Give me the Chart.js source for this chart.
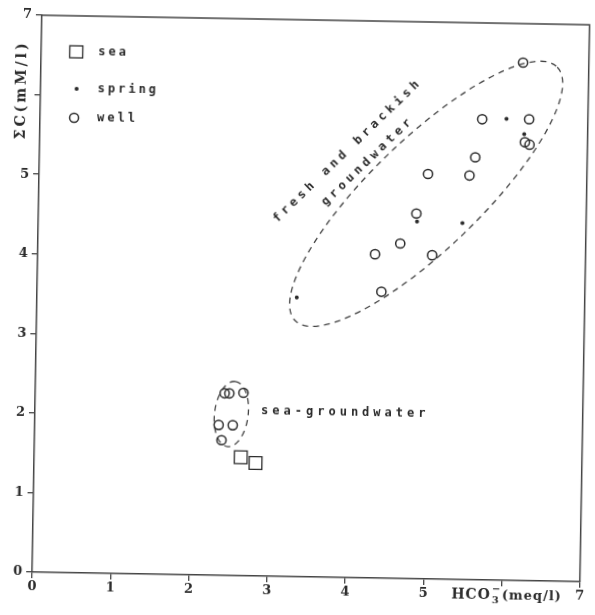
<!DOCTYPE html>
<html>
<head>
<meta charset="utf-8">
<script src="https://cdn.jsdelivr.net/npm/chart.js@4.4.1/dist/chart.umd.min.js"></script>
<style>
  html, body { margin: 0; padding: 0; background: #fff; }
  #wrap { width: 595px; height: 615px; overflow: hidden; position: relative; }
  /* the scanned figure sits about one degree off square */
  #chart { position: absolute; left: 0; top: 0; transform: rotate(1deg); transform-origin: 313px 298.5px; }
</style>
</head>
<body>
<div id="wrap"><canvas id="chart" width="595" height="615"></canvas></div>
<script>
// HCO3- versus total carbon, sea / spring / well samples

const xTicks = [0, 1, 2, 3, 4, 5, 6, 7];
const xTickLabels = ["0", "1", "2", "3", "4", "5", "", "7"];
const yTicks = [0, 1, 2, 3, 4, 5, 6, 7];
const yTickLabels = ["0", "1", "2", "3", "4", "5", "", "7"];

const seaX = [2.64, 2.83];
const seaY = [1.49, 1.42];

const springX = [3.32, 4.84, 5.42, 5.96, 6.19];
const springY = [3.51, 4.49, 4.48, 5.80, 5.61];

const wellX = [2.42, 2.48, 2.66, 2.35, 2.53, 2.39,
               6.16, 5.65, 6.25, 6.20, 6.26, 5.57, 5.50, 4.97, 4.83, 4.63, 4.31, 5.04, 4.40];
const wellY = [2.29, 2.29, 2.30, 1.89, 1.89, 1.70,
               6.51, 5.79, 5.80, 5.51, 5.48, 5.31, 5.08, 5.09, 4.59, 4.21, 4.07, 4.07, 3.60];

// dashed groupings: centre, half axes (x units), tilt in degrees
const groupCx = [4.95, 2.51];
const groupCy = [4.84, 2.03];
const groupA = [2.33, 0.42];
const groupB = [0.70, 0.215];
const groupAngle = [45, 84];

const noteText = ["fresh and brackish", "groundwater", "sea-groundwater"];
const noteX = [3.92, 4.18, 3.94];
const noteY = [5.35, 5.22, 2.07];
const noteAngle = [45, 45, 0];

const ink = "#2b2b2b";

function toPoints(xs, ys) {
    return xs.map((x, i) => ({ x: x, y: ys[i] }));
}

const decor = {
    id: "decor",
    beforeDatasetsDraw(chart) {
        const { ctx, scales: { x, y } } = chart;
        const unit = x.getPixelForValue(1) - x.getPixelForValue(0);
        ctx.save();
        ctx.strokeStyle = "#444";
        ctx.lineWidth = 1.3;
        ctx.setLineDash([6, 5]);
        groupCx.forEach((cx, i) => {
            ctx.beginPath();
            ctx.ellipse(x.getPixelForValue(cx), y.getPixelForValue(groupCy[i]),
                groupA[i] * unit, groupB[i] * unit, -groupAngle[i] * Math.PI / 180, 0, Math.PI * 2);
            ctx.stroke();
        });
        ctx.restore();
    },
    afterDraw(chart) {
        const { ctx, chartArea: area, scales: { x, y } } = chart;
        ctx.save();

        // frame, top and right
        ctx.strokeStyle = "#444";
        ctx.lineWidth = 1.5;
        ctx.beginPath();
        ctx.moveTo(area.left, area.top);
        ctx.lineTo(area.right, area.top);
        ctx.lineTo(area.right, area.bottom);
        ctx.stroke();

        ctx.fillStyle = ink;
        ctx.textAlign = "center";
        ctx.textBaseline = "middle";

        // notes on the groups
        ctx.font = "bold 12px 'DejaVu Sans Mono'";
        ctx.letterSpacing = "4px";
        noteText.forEach((t, i) => {
            ctx.save();
            ctx.translate(x.getPixelForValue(noteX[i]), y.getPixelForValue(noteY[i]));
            ctx.rotate(-noteAngle[i] * Math.PI / 180);
            ctx.fillText(t, 2, 0);
            ctx.restore();
        });

        // legend in the top left corner
        const lx = area.left + 35;
        const tx = area.left + 57;
        const rows = [area.top + 36, area.top + 73, area.top + 102];
        ctx.lineWidth = 1.3;
        ctx.strokeStyle = ink;
        ctx.strokeRect(lx - 6.5, rows[0] - 6, 13, 12);
        ctx.beginPath();
        ctx.arc(lx + 1, rows[1], 2, 0, Math.PI * 2);
        ctx.fill();
        ctx.lineWidth = 1.5;
        ctx.beginPath();
        ctx.arc(lx - 1, rows[2], 4.5, 0, Math.PI * 2);
        ctx.stroke();
        ctx.textAlign = "left";
        ctx.letterSpacing = "3px";
        chart.data.datasets.forEach((d, i) => ctx.fillText(d.label, tx, rows[i]));

        // y title, reading upwards, in place of the tick label 6
        ctx.font = "bold 14px 'DejaVu Serif'";
        ctx.letterSpacing = "3px";
        ctx.save();
        ctx.translate(area.left - 19, area.top + 75);
        ctx.rotate(-Math.PI / 2);
        ctx.textAlign = "center";
        ctx.fillText("\u03a3C(mM/l)", 0, 0);
        ctx.restore();

        // x title, in place of the tick label 6
        ctx.letterSpacing = "1px";
        let px = x.getPixelForValue(5.36);
        const base = area.bottom + 19;
        ctx.textBaseline = "alphabetic";
        ctx.font = "bold 14px 'DejaVu Serif'";
        ctx.fillText("HCO", px, base);
        px += ctx.measureText("HCO").width + 1;
        ctx.font = "bold 10px 'DejaVu Serif'";
        ctx.fillText("3", px, base + 4);
        ctx.fillText("\u2212", px, base - 7);
        px += ctx.measureText("3").width + 2;
        ctx.font = "bold 13px 'DejaVu Serif'";
        ctx.fillText("(meq/l)", px, base);

        ctx.restore();
    }
};

new Chart(document.getElementById("chart").getContext("2d"), {
    type: "scatter",
    data: {
        datasets: [
            {
                label: "sea",
                data: toPoints(seaX, seaY),
                pointStyle: "rect",
                pointRadius: 9,
                borderColor: ink,
                borderWidth: 1.3,
                backgroundColor: "rgba(0,0,0,0)"
            },
            {
                label: "spring",
                data: toPoints(springX, springY),
                pointStyle: "circle",
                pointRadius: 2,
                borderWidth: 0,
                backgroundColor: ink
            },
            {
                label: "well",
                data: toPoints(wellX, wellY),
                pointStyle: "circle",
                pointRadius: 4.6,
                borderColor: ink,
                borderWidth: 1.5,
                backgroundColor: "rgba(0,0,0,0)"
            }
        ]
    },
    options: {
        responsive: false,
        animation: false,
        devicePixelRatio: 1,
        layout: { padding: { top: 20, right: 6, left: 0, bottom: 0 } },
        plugins: {
            legend: { display: false },
            tooltip: { enabled: false }
        },
        scales: {
            x: {
                type: "linear",
                min: 0,
                max: 7,
                afterBuildTicks: s => { s.ticks = xTicks.map(v => ({ value: v })); },
                afterFit: s => { s.height = 38; },
                border: { color: "#444", width: 1.5 },
                grid: { drawOnChartArea: false, tickLength: 6, color: "#444", lineWidth: 1.3 },
                ticks: {
                    padding: 1,
                    color: ink,
                    font: { family: "'DejaVu Serif'", size: 13, weight: "bold" },
                    callback: (v, i) => xTickLabels[i]
                }
            },
            y: {
                type: "linear",
                min: 0,
                max: 7,
                afterBuildTicks: s => { s.ticks = yTicks.map(v => ({ value: v })); },
                afterFit: s => { s.width = 37; },
                border: { color: "#444", width: 1.5 },
                grid: { drawOnChartArea: false, tickLength: 6, color: "#444", lineWidth: 1.3 },
                ticks: {
                    padding: 4,
                    color: ink,
                    font: { family: "'DejaVu Serif'", size: 13, weight: "bold" },
                    callback: (v, i) => yTickLabels[i]
                }
            }
        }
    },
    plugins: [decor]
});
</script>
</body>
</html>
